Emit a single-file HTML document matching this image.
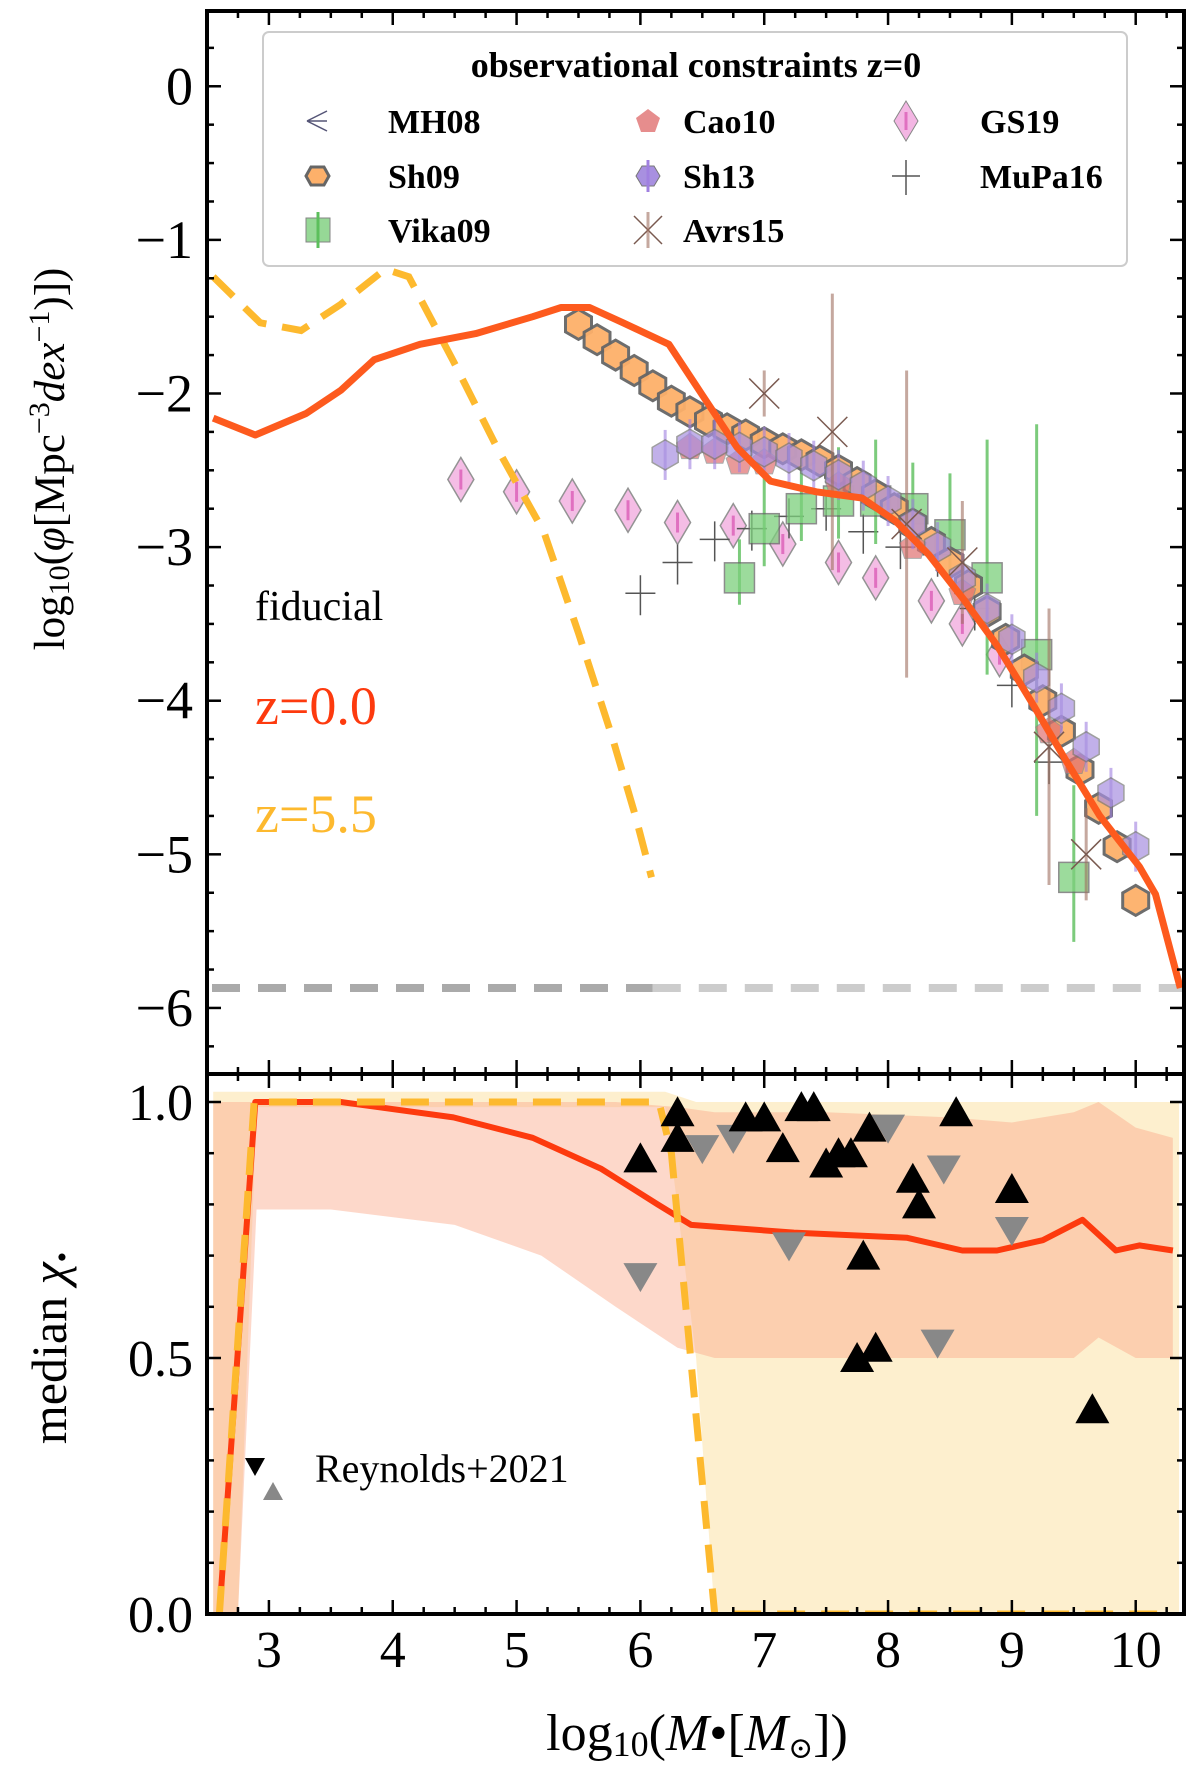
<!DOCTYPE html>
<html><head><meta charset="utf-8"><style>
html,body{margin:0;padding:0;background:#fff;width:1200px;height:1771px;overflow:hidden}
svg{display:block}
text{font-family:"Liberation Serif","DejaVu Serif",serif;fill:#000}
</style></head><body>
<svg id="c" width="1200" height="1771" viewBox="0 0 1200 1771" xmlns="http://www.w3.org/2000/svg"></svg>
<script>
// ---- data ----
const redTopX=[2.55,2.89,3.30,3.58,3.85,4.22,4.67,5.13,5.36,5.59,5.86,6.23,6.50,6.78,7.05,7.42,7.79,8.06,8.33,8.61,8.88,9.16,9.43,9.71,10.03,10.16,10.36];
const redTopY=[-2.16,-2.27,-2.13,-1.98,-1.78,-1.68,-1.61,-1.50,-1.44,-1.44,-1.54,-1.68,-2.01,-2.35,-2.57,-2.64,-2.68,-2.83,-3.05,-3.34,-3.64,-4.01,-4.38,-4.75,-5.08,-5.26,-5.87];
const yelTopX=[2.55,2.93,3.26,3.58,3.94,4.13,4.49,4.86,5.22,5.50,5.77,5.96,6.09];
const yelTopY=[-1.24,-1.54,-1.59,-1.42,-1.19,-1.24,-1.79,-2.38,-2.90,-3.56,-4.23,-4.75,-5.15];
const sh09X=[5.5,5.65,5.8,5.95,6.1,6.25,6.4,6.55,6.7,6.85,7.0,7.15,7.3,7.45,7.6,7.75,7.9,8.05,8.2,8.35,8.5,8.65,8.8,8.95,9.1,9.25,9.4,9.55,9.7,9.85,10.0];
const sh09Y=[-1.55,-1.65,-1.75,-1.85,-1.95,-2.05,-2.12,-2.18,-2.23,-2.27,-2.32,-2.36,-2.40,-2.44,-2.50,-2.58,-2.66,-2.75,-2.85,-2.97,-3.1,-3.25,-3.42,-3.6,-3.8,-4.0,-4.2,-4.45,-4.7,-4.95,-5.3];
const sh13X=[6.2,6.4,6.6,6.8,7.0,7.2,7.4,7.6,7.8,8.0,8.2,8.4,8.6,8.8,9.0,9.2,9.4,9.6,9.8,10.0];
const sh13Y=[-2.4,-2.33,-2.33,-2.35,-2.38,-2.42,-2.47,-2.53,-2.6,-2.7,-2.85,-3.0,-3.2,-3.4,-3.6,-3.85,-4.05,-4.3,-4.6,-4.95];
const cao10X=[6.4,6.6,6.8,7.0,7.6,8.2,8.6,9.3,9.5];
const cao10Y=[-2.35,-2.38,-2.45,-2.45,-2.6,-3.0,-3.3,-4.2,-4.4];
const gs19X=[4.55,5.0,5.45,5.9,6.3,6.75,7.15,7.6,7.9,8.35,8.6,8.9];
const gs19Y=[-2.56,-2.64,-2.7,-2.76,-2.84,-2.86,-2.98,-3.1,-3.2,-3.35,-3.5,-3.7];
const mupaX=[6.0,6.3,6.6,6.9,7.2,7.5,7.8,8.1,8.4,8.7,9.0,9.3];
const mupaY=[-3.3,-3.1,-2.95,-2.88,-2.8,-2.75,-2.9,-3.0,-3.05,-3.4,-3.9,-4.4];
const vikaX=[6.8,7.0,7.3,7.6,7.9,8.2,8.5,8.8,9.2,9.5];
const vikaY=[-3.2,-2.88,-2.75,-2.7,-2.7,-2.75,-2.92,-3.2,-3.7,-5.15];
const vikaErr=[0.25,0.35,0.3,0.35,0.4,0.3,0.4,0.9,1.5,0.6];
const avrsX=[7.0,7.55,8.15,8.6,9.3,9.6];
const avrsY=[-2.0,-2.25,-2.85,-3.1,-4.3,-5.0];
const avrsErr=[0.15,0.9,1.0,0.4,0.9,0.3];
const redBotX=[2.6,2.89,3.58,4.49,5.13,5.68,6.14,6.41,7.24,8.15,8.6,8.88,9.25,9.57,9.84,10.03,10.3];
const redBotY=[0,1.0,1.0,0.97,0.93,0.87,0.80,0.76,0.745,0.735,0.71,0.71,0.73,0.77,0.71,0.72,0.71];
const yelBotX=[2.6,2.88,6.15,6.25,6.6,10.3];
const yelBotY=[0,1.0,1.0,0.9,0,0];
const bandRX=[2.55,2.75,2.9,3.5,4.5,5.2,5.8,6.3,6.6,7.5,8.5,9.0,9.5,9.7,10.0,10.3];
const bandRLo=[0,0,0.79,0.79,0.76,0.7,0.6,0.52,0.5,0.5,0.5,0.5,0.5,0.54,0.5,0.5];
const bandRHi=[1.0,1.0,1.0,1.0,1.0,1.0,1.0,0.99,0.98,0.98,0.97,0.96,0.98,1.0,0.95,0.93];
const bandYX=[2.55,2.75,2.9,6.2,6.45,6.6,10.35];
const bandYLo=[0,0,0.99,0.99,0.5,0,0];
const bandYHi=[1.02,1.02,1.02,1.02,1.0,1.0,1.0];
const upX=[6.0,6.3,6.3,6.85,7.0,7.15,7.3,7.4,7.5,7.6,7.7,7.8,7.75,7.9,7.85,8.2,8.25,8.55,9.0,9.65];
const upY=[0.89,0.98,0.93,0.97,0.97,0.91,0.99,0.99,0.88,0.9,0.9,0.7,0.5,0.52,0.95,0.85,0.8,0.98,0.83,0.4];
const dnX=[6.0,6.5,6.75,7.2,8.0,8.45,8.4,9.0];
const dnY=[0.66,0.91,0.93,0.72,0.95,0.87,0.53,0.75];
const xTicks=[3,4,5,6,7,8,9,10];
const yTopTicks=[0,-1,-2,-3,-4,-5,-6];
const yBotTicks=[0.0,0.5,1.0];

// ---- axes ----
const L=207,R=1184,T=11,M=1074,B=1614;
const X=v=>L+(v-2.5)*(R-L)/(10.39-2.5);
const YT=v=>T+(0.49-v)*(M-T)/(0.49+6.43);
const YB=v=>B-v*(B-1102);
const NS="http://www.w3.org/2000/svg";
const svg=document.getElementById('c');
function el(tag,attrs,parent){const e=document.createElementNS(NS,tag);for(const k in attrs)e.setAttribute(k,attrs[k]);(parent||svg).appendChild(e);return e;}
function pts(xs,ys,fy){return xs.map((x,i)=>X(x).toFixed(1)+','+fy(ys[i]).toFixed(1)).join(' ');}
const gTop=el('g',{});
const gBot=el('g',{});
const clipT=el('clipPath',{id:'ct'});el('rect',{x:L,y:T,width:R-L,height:M-T},clipT);
const clipB=el('clipPath',{id:'cb'});el('rect',{x:L,y:M,width:R-L,height:B-M},clipB);
gTop.setAttribute('clip-path','url(#ct)');gBot.setAttribute('clip-path','url(#cb)');

// bottom bands
function band(xs,lo,hi,fill,op,name){const p=xs.map((x,i)=>X(x)+','+YB(hi[i])).concat(xs.slice().reverse().map((x,j)=>{const i=xs.length-1-j;return X(x)+','+YB(lo[i]);})).join(' ');
const e=el('polygon',{points:p,fill:fill,opacity:op},gBot);}
band(bandYX,bandYLo,bandYHi,'#fbd98a',0.42,'band-z5.5');
band(bandRX,bandRLo,bandRHi,'#fba98a',0.45,'band-z0');

// gray limit line
let e=el('line',{x1:L+5,x2:X(6.1),y1:YT(-5.87),y2:YT(-5.87),stroke:'#aaa','stroke-width':8,'stroke-dasharray':'28,18'},gTop);

e=el('line',{x1:X(6.1),x2:R,y1:YT(-5.87),y2:YT(-5.87),stroke:'#ccc','stroke-width':8,'stroke-dasharray':'28,18'},gTop);


// markers
function hexPath(cx,cy,r){let s='';for(let i=0;i<6;i++){const a=Math.PI/6+i*Math.PI/3;s+=(i?'L':'M')+(cx+r*Math.cos(a)).toFixed(1)+','+(cy+r*Math.sin(a)).toFixed(1);}return s+'Z';}
function pentPath(cx,cy,r){let s='';for(let i=0;i<5;i++){const a=-Math.PI/2+i*2*Math.PI/5;s+=(i?'L':'M')+(cx+r*Math.cos(a)).toFixed(1)+','+(cy+r*Math.sin(a)).toFixed(1);}return s+'Z';}
gs19X.forEach((x,i)=>{const cx=X(x),cy=YT(gs19Y[i]);
 e=el('path',{d:`M${cx},${cy-22}L${cx+13},${cy}L${cx},${cy+22}L${cx-13},${cy}Z`,fill:'#f3b6e3',stroke:'#888','stroke-width':1.5,opacity:0.9},gTop);
 
 el('line',{x1:cx,x2:cx,y1:cy-10,y2:cy+10,stroke:'#e070c0','stroke-width':3},gTop);});
mupaX.forEach((x,i)=>{const cx=X(x),cy=YT(mupaY[i]);
 e=el('path',{d:`M${cx-15},${cy}H${cx+15}M${cx},${cy-18}V${cy+22}`,stroke:'#555','stroke-width':1.5,fill:'none'},gTop);
 });
vikaX.forEach((x,i)=>{const cx=X(x),cy=YT(vikaY[i]);
 el('line',{x1:cx,x2:cx,y1:YT(vikaY[i]+vikaErr[i]),y2:YT(vikaY[i]-vikaErr[i]*0.7),stroke:'#5cbf5c','stroke-width':3,opacity:0.8},gTop);
 e=el('rect',{x:cx-15,y:cy-15,width:30,height:30,fill:'#7ccf7c',stroke:'#666','stroke-width':1.5,opacity:0.75},gTop);
 });
sh09X.forEach((x,i)=>{e=el('path',{d:hexPath(X(x),YT(sh09Y[i]),15),fill:'#fdb06a',stroke:'#666','stroke-width':3,opacity:0.95},gTop);
 });
cao10X.forEach((x,i)=>{e=el('path',{d:pentPath(X(x),YT(cao10Y[i]),14),fill:'#e07070',stroke:'#888','stroke-width':1,opacity:0.7},gTop);
 });
sh13X.forEach((x,i)=>{const cx=X(x),cy=YT(sh13Y[i]);
 el('line',{x1:cx,x2:cx,y1:cy-25,y2:cy+25,stroke:'#a080e0','stroke-width':3,opacity:0.6},gTop);
 e=el('path',{d:hexPath(cx,cy,15),fill:'#a890e0',stroke:'#777','stroke-width':1.5,opacity:0.7},gTop);
 });
avrsX.forEach((x,i)=>{const cx=X(x),cy=YT(avrsY[i]);
 el('line',{x1:cx,x2:cx,y1:YT(avrsY[i]+avrsErr[i]),y2:YT(avrsY[i]-avrsErr[i]),stroke:'#a07060','stroke-width':3,opacity:0.6},gTop);
 e=el('path',{d:`M${cx-15},${cy-15}L${cx+15},${cy+15}M${cx+15},${cy-15}L${cx-15},${cy+15}`,stroke:'#7a5a50','stroke-width':1.5},gTop);
 });

e=el('polyline',{points:pts(yelTopX,yelTopY,YT),fill:'none',stroke:'#fdb92e','stroke-width':7,'stroke-dasharray':'28,16'},gTop);

e=el('polyline',{points:pts(redTopX,redTopY,YT),fill:'none',stroke:'#fd5a1e','stroke-width':7,'stroke-linejoin':'round'},gTop);


e=el('polyline',{points:pts(redBotX,redBotY,YB),fill:'none',stroke:'#fd3a0e','stroke-width':6,'stroke-linejoin':'round'},gBot);

e=el('polyline',{points:pts(yelBotX,yelBotY,YB),fill:'none',stroke:'#fdb92e','stroke-width':7,'stroke-dasharray':'28,16'},gBot);

dnX.forEach((x,i)=>{const cx=X(x),cy=YB(dnY[i]);
 e=el('path',{d:`M${cx-17},${cy-13}L${cx+17},${cy-13}L${cx},${cy+16}Z`,fill:'#888'},gBot);
 });
upX.forEach((x,i)=>{const cx=X(x),cy=YB(upY[i]);
 e=el('path',{d:`M${cx-17},${cy+14}L${cx+17},${cy+14}L${cx},${cy-16}Z`,fill:'#000'},gBot);
 });

e=el('rect',{x:L,y:T,width:R-L,height:M-T,fill:'none',stroke:'#000','stroke-width':4});
e=el('rect',{x:L,y:M,width:R-L,height:B-M,fill:'none',stroke:'#000','stroke-width':4});

const tk=el('g',{stroke:'#000','stroke-width':2.5});
for(let v=2.5;v<=10.39;v+=0.25){const x=X(v);const maj=Math.abs(v-Math.round(v))<1e-6;const len=maj?14:7;
 [T,M,B].forEach(y=>{if(y!==T)el('line',{x1:x,x2:x,y1:y,y2:y-len},tk);if(y!==B)el('line',{x1:x,x2:x,y1:y,y2:y+len},tk);});}
for(let v=-6.25;v<=0.49;v+=0.25){const y=YT(v);const maj=Math.abs(v-Math.round(v))<1e-6;const len=maj?14:7;
 el('line',{x1:L,x2:L+len,y1:y,y2:y},tk);el('line',{x1:R,x2:R-len,y1:y,y2:y},tk);}
for(let v=0;v<=1.05;v+=0.1){const y=YB(v);const maj=Math.abs(v*2-Math.round(v*2))<1e-6;const len=maj?14:7;
 el('line',{x1:L,x2:L+len,y1:y,y2:y},tk);el('line',{x1:R,x2:R-len,y1:y,y2:y},tk);}

xTicks.forEach(v=>{e=el('text',{x:X(v),y:1667,'font-size':52,'text-anchor':'middle'});e.textContent=v;});
yTopTicks.forEach(v=>{e=el('text',{x:193,y:YT(v)+18,'font-size':54,'text-anchor':'end'});e.textContent=v===0?'0':'\u2212'+Math.abs(v);});
yBotTicks.forEach(v=>{e=el('text',{x:193,y:YB(v)+18,'font-size':52,'text-anchor':'end'});e.textContent=v.toFixed(1);});
</script>

<svg width="1200" height="1771" style="position:absolute;left:0;top:0" xmlns="http://www.w3.org/2000/svg">
<text x="697" y="1750" font-size="52" text-anchor="middle">log<tspan font-size="36" dy="6">10</tspan><tspan dy="-6">(</tspan><tspan font-style="italic">M</tspan>•[<tspan font-style="italic">M</tspan><tspan font-size="30" dy="8">⊙</tspan><tspan dy="-8">])</tspan></text>
<text transform="translate(64,459) rotate(-90)" font-size="43" text-anchor="middle">log<tspan font-size="30" dy="5">10</tspan><tspan dy="-5">(</tspan><tspan font-style="italic">φ</tspan>[Mpc<tspan font-size="30" dy="-15">−3</tspan><tspan dy="15" font-style="italic">dex</tspan><tspan font-size="30" dy="-15">−1</tspan><tspan dy="15">)])</tspan></text>
<text transform="translate(66,1348) rotate(-90)" font-size="50" text-anchor="middle">median <tspan font-style="italic">χ</tspan><tspan font-size="30" dy="6">•</tspan></text>
<text x="255" y="620" font-size="42">fiducial</text>
<text x="255" y="724" font-size="54" style="fill:#fd3a0e">z=0.0</text>
<text x="255" y="832" font-size="54" style="fill:#fdb92e">z=5.5</text>
<g>
<rect x="263" y="32" width="864" height="234" rx="6" fill="#fff" fill-opacity="0.85" stroke="#ccc" stroke-width="2"/>
<text x="696" y="77" font-size="36" text-anchor="middle" font-weight="bold">observational constraints z=0</text>
<g font-size="34" font-weight="bold">
<path d="M307,121H327M307,121L327,111M307,121L327,131" stroke="#557" stroke-width="1.5" fill="none"/>
<text x="388" y="133">MH08</text>
<path d="M306,176L311,167L324,167L329,176L324,185L311,185Z" fill="#fdb06a" stroke="#666" stroke-width="3"/>
<text x="388" y="188">Sh09</text>
<rect x="306" y="218" width="24" height="24" fill="#7ccf7c" stroke="#666" opacity="0.8"/><line x1="318" x2="318" y1="212" y2="248" stroke="#5cbf5c" stroke-width="3"/>
<text x="388" y="242">Vika09</text>
<path d="M648,109L660,118L655,132L641,132L636,118Z" fill="#e07070" opacity="0.8"/>
<text x="683" y="133">Cao10</text>
<path d="M636,176L642,166L654,166L660,176L654,186L642,186Z" fill="#a890e0" stroke="#777"/><line x1="648" x2="648" y1="160" y2="192" stroke="#a080e0" stroke-width="3"/>
<text x="683" y="188">Sh13</text>
<path d="M634,216L662,244M662,216L634,244" stroke="#7a5a50" stroke-width="1.5"/><line x1="648" x2="648" y1="212" y2="248" stroke="#a07060" stroke-width="3" opacity="0.6"/>
<text x="683" y="242">Avrs15</text>
<path d="M906,101L918,121L906,141L894,121Z" fill="#f3b6e3" stroke="#888"/><line x1="906" x2="906" y1="112" y2="130" stroke="#e070c0" stroke-width="3"/>
<text x="980" y="133">GS19</text>
<path d="M892,176H920M906,160V195" stroke="#555" stroke-width="1.5"/>
<text x="980" y="188">MuPa16</text>
</g></g>
<g>
<path d="M245,1458L265,1458L255,1476Z" fill="#000"/>
<path d="M263,1500L283,1500L273,1482Z" fill="#888"/>
<text x="315" y="1482" font-size="40">Reynolds+2021</text>
</g>
</svg>
</body></html>
